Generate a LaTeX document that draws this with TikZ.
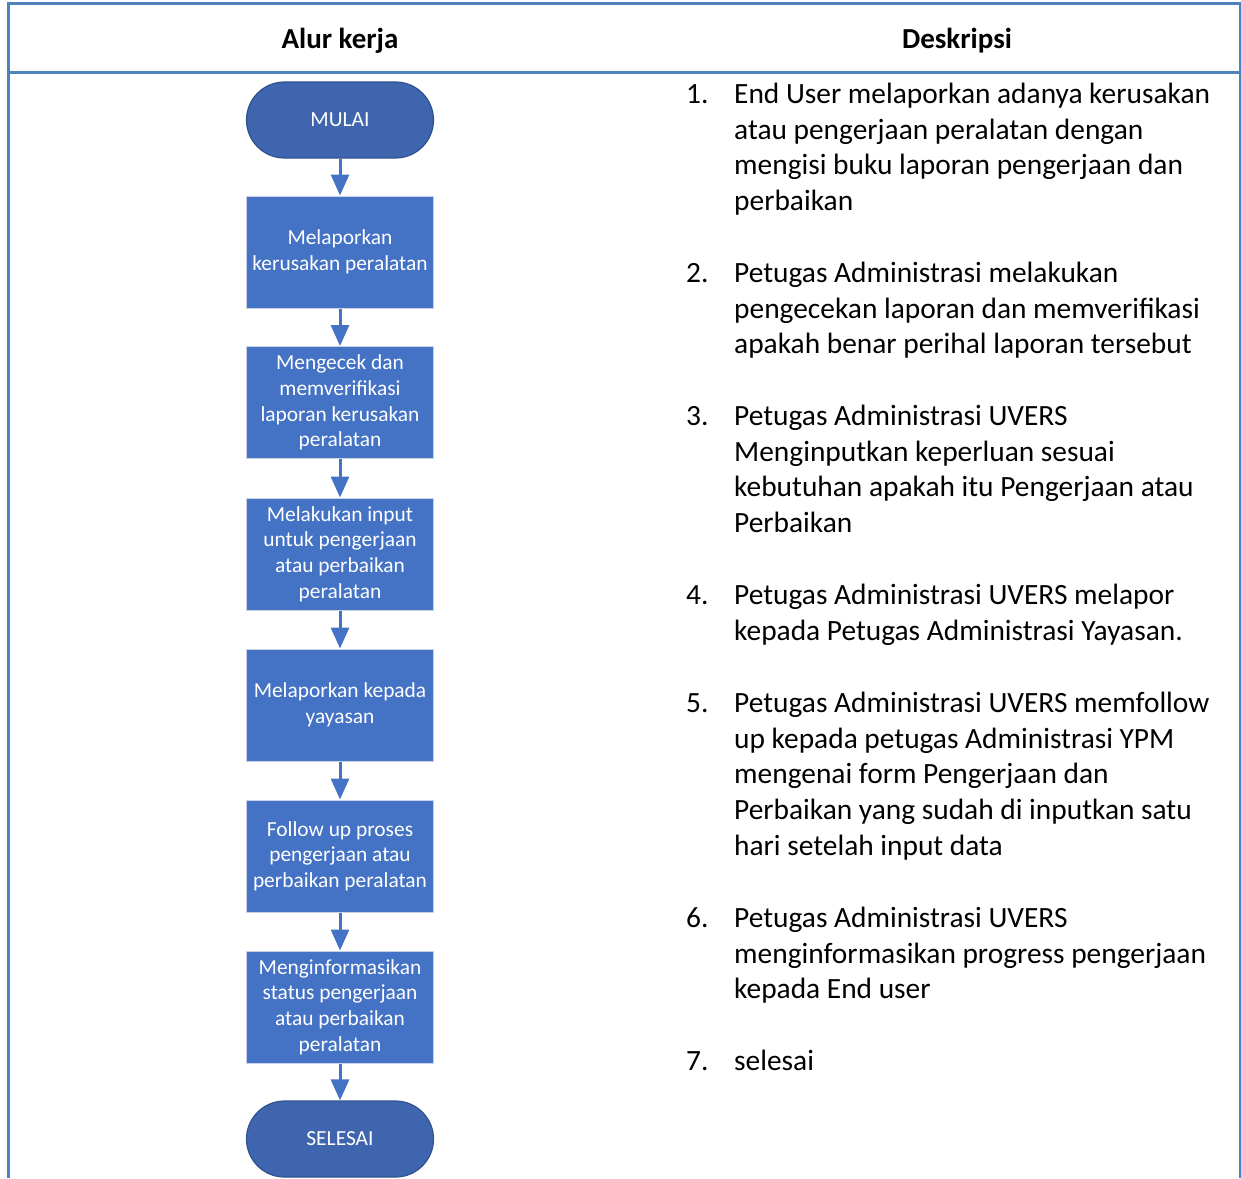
\documentclass[tikz,border=0pt]{standalone}
\usepackage{fontspec}
\setmainfont{Carlito}
\usetikzlibrary{arrows.meta}
\definecolor{garistabel}{HTML}{4F81BD}
\definecolor{birukotak}{HTML}{4472C4}
\definecolor{biruujung}{HTML}{3F65AE}
\definecolor{tepiujung}{HTML}{2F528F}
\definecolor{tepikotak}{HTML}{C9D3E6}

\begin{document}
\begin{tikzpicture}
	[x=1pt,y=-1pt,
	 proses/.style={rectangle,draw=tepikotak,line width=1pt,fill=birukotak,text=white,minimum width=187pt,minimum height=112pt,align=center,inner sep=0pt,font=\fontsize{21.4}{25.7}\selectfont},
	 ujung/.style={rectangle,rounded corners=38pt,draw=tepiujung,line width=1.2pt,fill=biruujung,text=white,minimum width=187pt,minimum height=76pt,font=\fontsize{21.5}{24}\selectfont},
	 panah/.style={draw=birukotak,line width=3pt,-{Triangle[length=21pt,width=18pt]}},
	 judul/.style={font=\fontsize{29}{32}\selectfont\bfseries},
	 nomor/.style={anchor=north west,inner sep=0pt,font=\fontsize{29.4}{35.8}\selectfont},
	 teks/.style={anchor=north west,align=left,inner sep=0pt,font=\fontsize{29.4}{35.8}\selectfont}]
	\useasboundingbox (0,0) rectangle (1241,1178);
	
	% tabel
	\draw[garistabel,line width=3pt] (8,1178) -- (8,3) -- (1240,3) -- (1240,1178);
	\draw[garistabel,line width=3pt] (8,72) -- (1240,72);
	\node[judul] (alur) at (340,41) {Alur kerja};
	\node[judul] (desk) at (957,41) {Deskripsi};
	
	% alur kerja
	\node[ujung] (mulai) at (340,120) {MULAI};
	\node[proses] (p1) at (340,252) {Melaporkan\\kerusakan peralatan};
	\node[proses] (p2) at (340,402.5) {Mengecek dan\\memverifikasi\\laporan kerusakan\\peralatan};
	\node[proses] (p3) at (340,554) {Melakukan input\\untuk pengerjaan\\atau perbaikan\\peralatan};
	\node[proses] (p4) at (340,705) {Melaporkan kepada\\yayasan};
	\node[proses] (p5) at (340,856) {Follow up proses\\pengerjaan atau\\perbaikan peralatan};
	\node[proses] (p6) at (340,1007) {Menginformasikan\\status pengerjaan\\atau perbaikan\\peralatan};
	\node[ujung] (selesai) at (340,1139) {SELESAI};
	
	\foreach \from/\to in {mulai/p1,p1/p2,p2/p3,p3/p4,p4/p5,p5/p6,p6/selesai}
	\draw[panah] (\from) -- (\to);
	
	% deskripsi
	\foreach \n/\y/\isi in {
		1/78/{End User melaporkan adanya kerusakan\\atau pengerjaan peralatan dengan\\mengisi buku laporan pengerjaan dan\\perbaikan},
		2/257/{Petugas Administrasi melakukan\\pengecekan laporan dan memverifikasi\\apakah benar perihal laporan tersebut},
		3/400/{Petugas Administrasi UVERS\\Menginputkan keperluan sesuai\\kebutuhan apakah itu Pengerjaan atau\\Perbaikan},
		4/579/{Petugas Administrasi UVERS melapor\\kepada Petugas Administrasi Yayasan.},
		5/687/{Petugas Administrasi UVERS memfollow\\up kepada petugas Administrasi YPM\\mengenai form Pengerjaan dan\\Perbaikan yang sudah di inputkan satu\\hari setelah input data},
		6/902/{Petugas Administrasi UVERS\\menginformasikan progress pengerjaan\\kepada End user},
		7/1045/{selesai}}
	{
	\node[nomor] (n\n) at (686,\y) {\strut\n.};
	\node[teks] (t\n) at (734,\y) {\strut\isi};
	}
	\end{tikzpicture}
\end{document}
